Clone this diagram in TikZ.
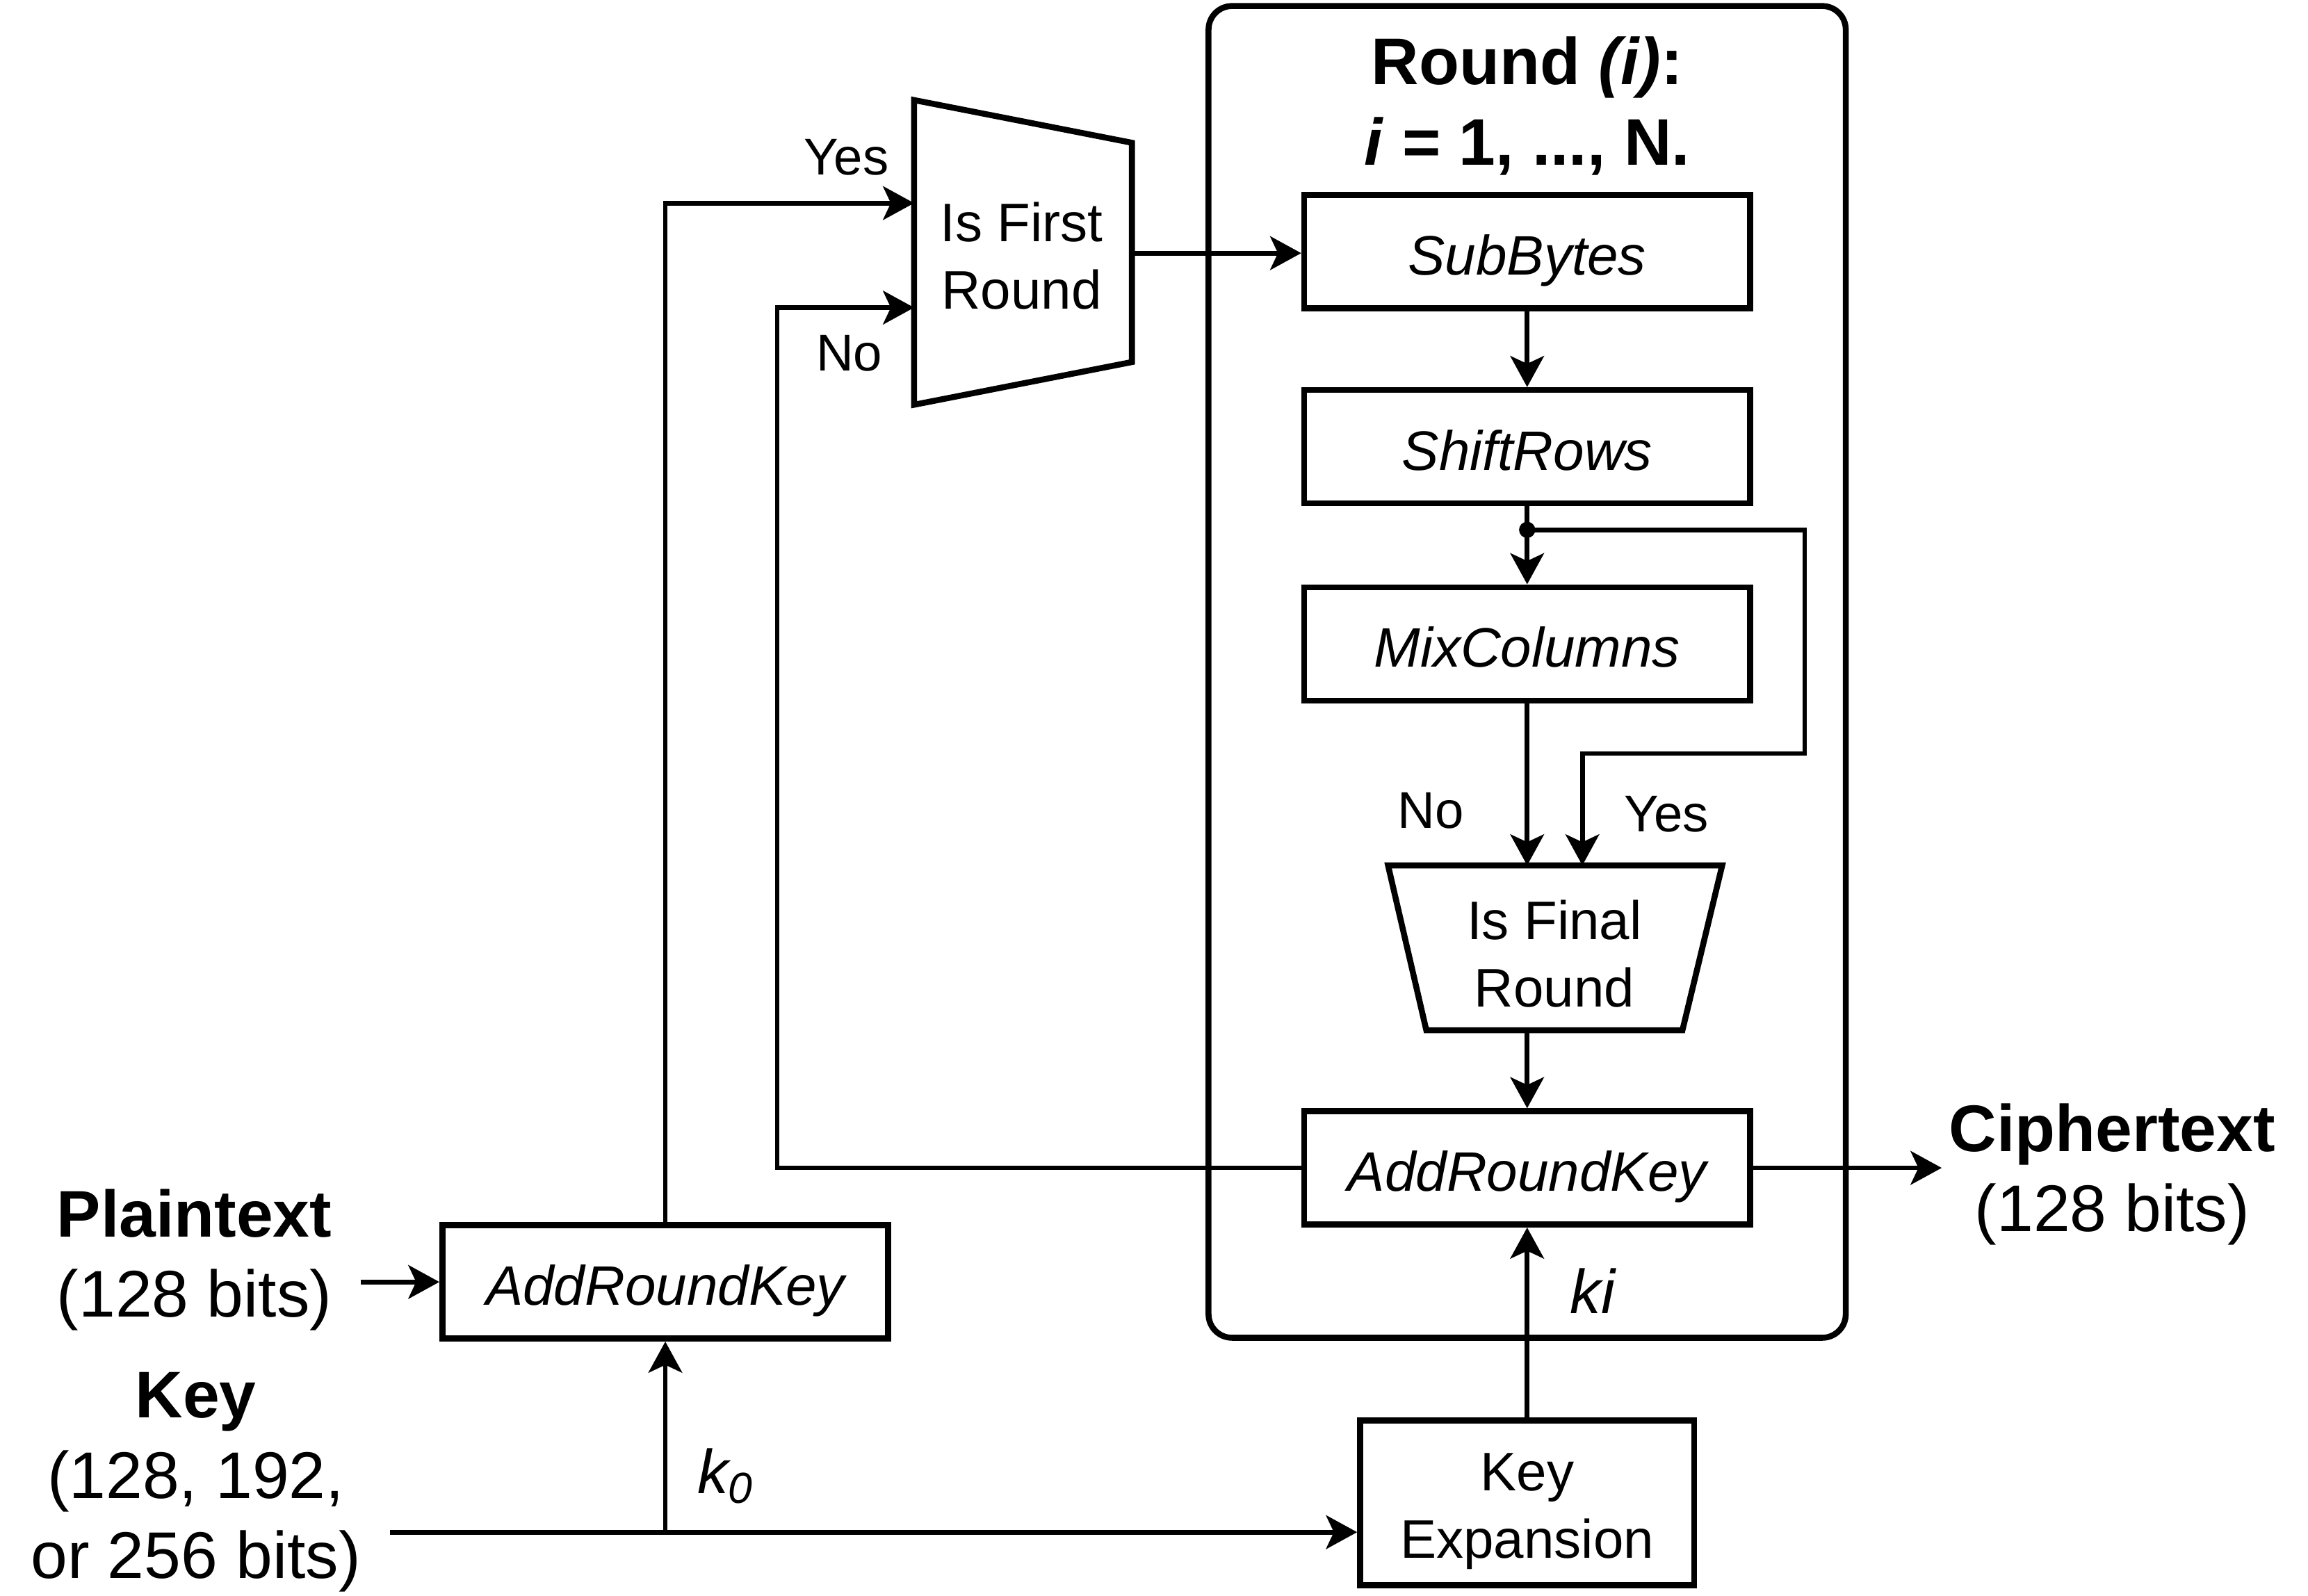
\documentclass[tikz,border=0pt]{standalone}
\usepackage{fontspec}
\setmainfont{Liberation Sans}
\usetikzlibrary{arrows.meta}

\begin{document}
\begin{tikzpicture}[x=0.02cm,y=-0.02cm,line width=1.8pt,
  stage/.style={draw, line width=2.3pt, minimum width=6.06cm, minimum height=1.54cm, inner sep=0pt, text height=20pt, text depth=2pt, font=\fontsize{21.5}{25}\selectfont\itshape},
  side/.style={align=center, inner sep=2pt, font=\fontsize{25.5}{31}\selectfont},
  choice/.style={font=\fontsize{20}{24}\selectfont},
  mux/.style={align=center, font=\fontsize{21}{26}\selectfont},
  flow/.style={-{Stealth[length=12pt,width=13pt,inset=3pt]}}]
\useasboundingbox (0,0) rectangle (1568,1084);

\node[draw, line width=2.3pt, rounded corners=0.32cm, minimum width=8.66cm, minimum height=18.1cm] (round) at (1037.5,456.5) {};
\node[side, font=\fontsize{25.5}{31}\selectfont\bfseries] (title) at (1037.5,72)
{Round \textit{(i)}:\\\textit{i} = 1, ..., N.};

\node[stage] (sub) at (1037.5,171) {SubBytes};
\node[stage] (shift) at (1037.5,303.5) {ShiftRows};
\node[stage] (mix) at (1037.5,437.5) {MixColumns};
\node[stage] (ark) at (1037.5,793.5) {AddRoundKey};
\node[stage] (ark0) at (452,871) {AddRoundKey};
\node[draw, line width=2.3pt, minimum width=4.54cm, minimum height=2.24cm] (kexp) at (1037.5,1021) {};
\node[mux] (kexptext) at (1037.5,1027) {Key\\Expansion};

\draw[line width=2.3pt, line join=miter] (621,68) -- (769,97) -- (769,246) -- (621,275) -- cycle;
\node[mux] (first) at (694,174) {Is First\\Round};
\draw[line width=2.3pt, line join=miter] (943,588) -- (1170,588) -- (1143,700) -- (969,700) -- cycle;
\node[mux] (final) at (1056,648) {Is Final\\Round};

\node[side] (plain) at (132,856) {\textbf{Plaintext}\\(128 bits)};
\node[side] (key) at (133,1007) {\textbf{Key}\\(128, 192,\\or 256 bits)};
\node[side] (cipher) at (1435,798) {\textbf{Ciphertext}\\(128 bits)};

\coordinate (firstyes) at (621,138);
\coordinate (firstno) at (621,209);
\coordinate (firstout) at (769,172);
\coordinate (split) at (1037.5,360);
\coordinate (finalno) at (1037.5,588);
\coordinate (finalyes) at (1075,588);
\coordinate (finalout) at (1037.5,700);
\coordinate (keystart) at (265,1041);
\coordinate (plainend) at (245,871);

\draw[flow] (ark0.north) |- (firstyes);
\draw[flow] (ark.west) -| (528,209) -- (firstno);
\draw[flow] (firstout) -- (firstout -| sub.west);
\draw[flow] (sub.south) -- (shift.north);
\draw[flow] (shift.south) -- (mix.north);
\fill (split) circle (5.5);
\draw[flow] (split) -| (1226,512) -| (finalyes);
\draw[flow] (mix.south) -- (finalno);
\draw[flow] (finalout) -- (ark.north);
\draw[flow] (ark.east) -- (cipher.west |- ark.east);
\draw[flow] (plainend) -- (ark0.west);
\draw[flow] (keystart) -- (keystart -| kexp.west);
\draw[flow] (keystart -| ark0.south) -- (ark0.south);
\draw[flow] (kexp.north) -- (ark.south);

\node[choice] (yes1) at (575,107) {Yes};
\node[choice] (no1) at (577,240) {No};
\node[choice] (no2) at (972,551) {No};
\node[choice] (yes2) at (1132,553) {Yes};
\node[font=\fontsize{24}{28}\selectfont\itshape] (ki) at (1082,877) {ki};
\node[font=\fontsize{24}{28}\selectfont\itshape] (k0) at (493,1003) {k\textsubscript{0}};
\end{tikzpicture}
\end{document}
